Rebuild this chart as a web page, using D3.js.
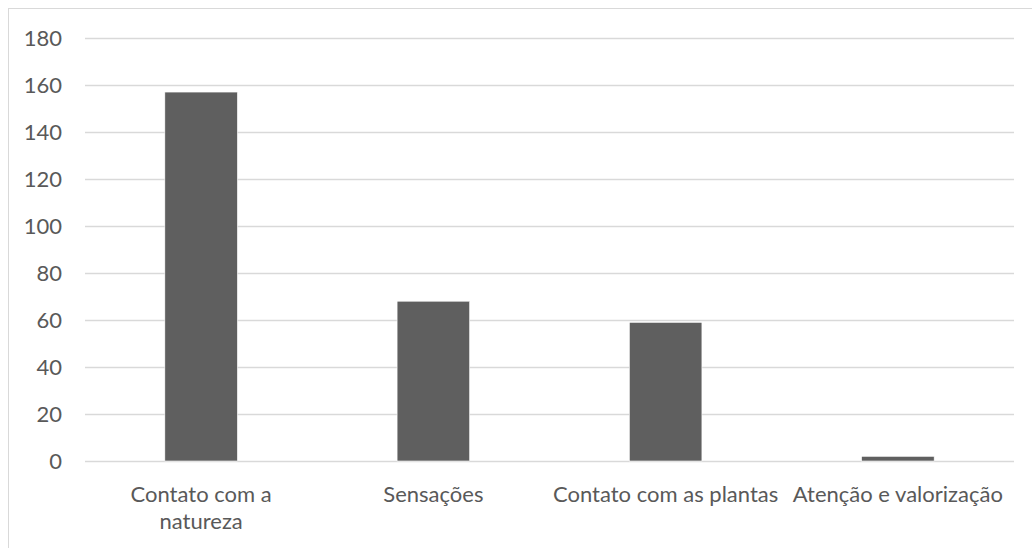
<!DOCTYPE html>
<html>
<head>
<meta charset="utf-8">
<script src="https://cdn.jsdelivr.net/npm/d3@7"></script>
<style>
  html, body { margin: 0; padding: 0; background: #ffffff; }
  svg { display: block; }
  text { font-family: Lato, "Open Sans", sans-serif; fill: #595959; }
</style>
</head>
<body>
<script>
// Categories and counts
const categories = [
  ["Contato com a", "natureza"],
  ["Sensações"],
  ["Contato com as plantas"],
  ["Atenção e valorização"]
];
const values = [157, 68, 59, 2];
const yTicks = [0, 20, 40, 60, 80, 100, 120, 140, 160, 180];

const W = 1032, H = 548;
const plot = { left: 85, right: 1014, top: 38, bottom: 461 };
const fontSize = "22px";

const svg = d3.select("body").append("svg")
  .attr("width", W).attr("height", H);

// Chart area frame
svg.append("rect")
  .attr("x", 8.5).attr("y", 8.5)
  .attr("width", W + 20).attr("height", H + 20)
  .attr("fill", "none").attr("stroke", "#d9d9d9").attr("stroke-width", 1);

const keys = categories.map(c => c.join(" "));

const x = d3.scaleBand()
  .domain(keys)
  .range([plot.left, plot.right])
  .paddingInner(0.6875)
  .paddingOuter(0.34375);

const y = d3.scaleLinear()
  .domain([0, 180])
  .range([plot.bottom, plot.top]);

// Horizontal gridlines
svg.append("g")
  .selectAll("line")
  .data(yTicks)
  .join("line")
  .attr("x1", plot.left).attr("x2", plot.right)
  .attr("y1", d => Math.round(y(d)) + 0.5)
  .attr("y2", d => Math.round(y(d)) + 0.5)
  .attr("stroke", "#d9d9d9").attr("stroke-width", 1.5);

// Y axis labels
const yAxis = d3.axisLeft(y).tickValues(yTicks).tickSize(0).tickPadding(0);
const gy = svg.append("g")
  .attr("transform", `translate(62,0)`)
  .call(yAxis);
gy.select(".domain").remove();
gy.selectAll("text")
  .attr("font-size", fontSize)
  .attr("fill", "#595959")
  .attr("font-family", "Lato, sans-serif")
  .attr("dy", "0.36em");

// Bars
svg.append("g")
  .selectAll("rect")
  .data(values)
  .join("rect")
  .attr("x", (d, i) => x(keys[i]))
  .attr("width", x.bandwidth())
  .attr("y", d => y(d))
  .attr("height", d => y(0) - y(d))
  .attr("fill", "#5f5f5f")
  .attr("stroke", "#ffffff")
  .attr("stroke-width", 0.6);

// Category labels
const gx = svg.append("g");
categories.forEach((lines, i) => {
  const cx = x(keys[i]) + x.bandwidth() / 2;
  const t = gx.append("text")
    .attr("text-anchor", "middle")
    .attr("font-size", fontSize)
    .attr("x", cx)
    .attr("y", 502);
  lines.forEach((ln, j) => {
    t.append("tspan").attr("x", cx).attr("dy", j === 0 ? 0 : 27).text(ln);
  });
});
</script>
</body>
</html>
